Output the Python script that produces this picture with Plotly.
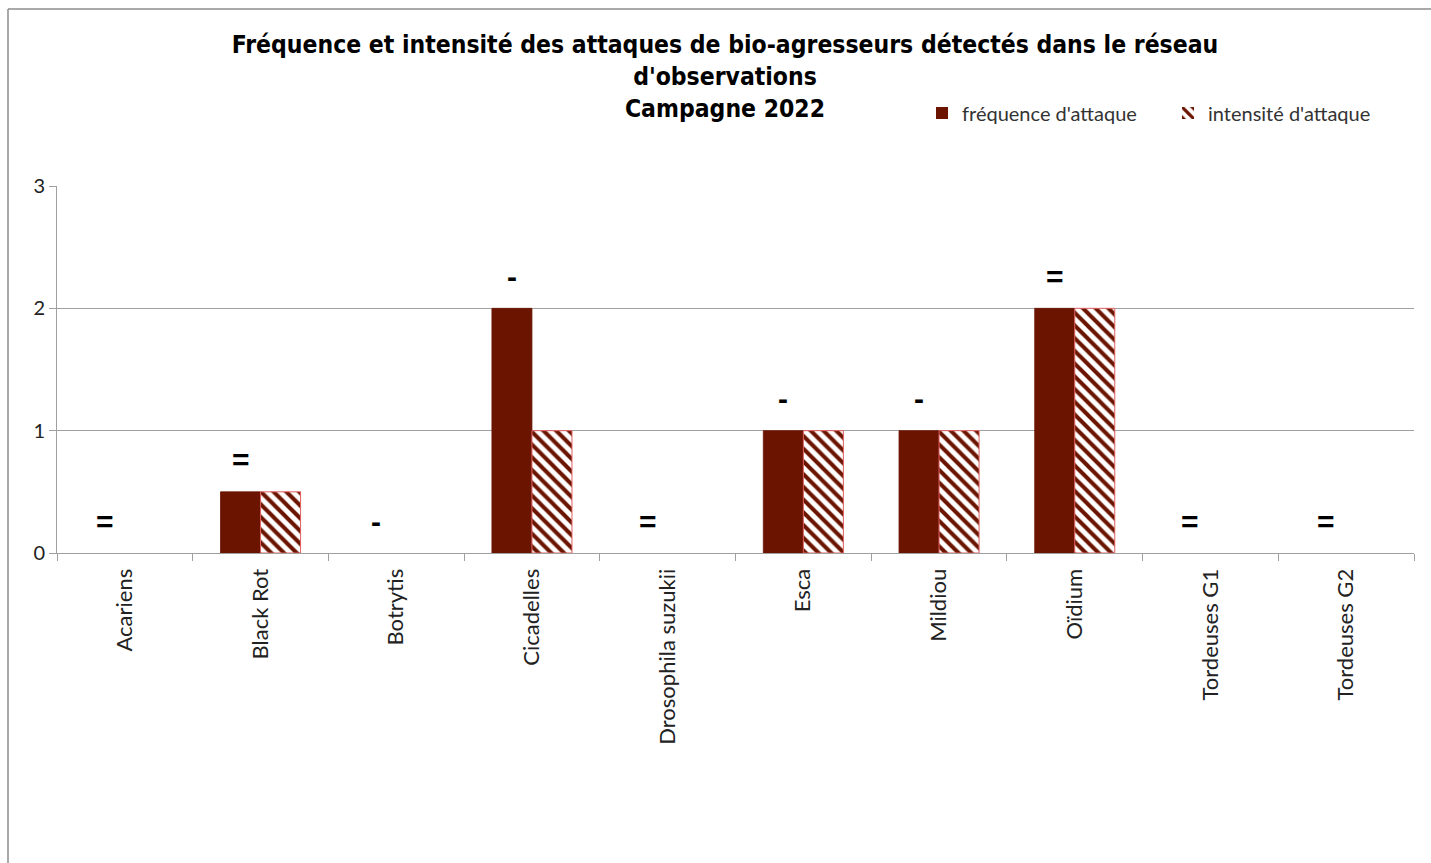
import plotly.graph_objects as go

categories = ["Acariens", "Black Rot", "Botrytis", "Cicadelles", "Drosophila suzukii",
              "Esca", "Mildiou", "Oïdium", "Tordeuses G1", "Tordeuses G2"]
frequence = [0, 0.5, 0, 2, 0, 1, 1, 2, 0, 0]
intensite = [0, 0.5, 0, 1, 0, 1, 1, 2, 0, 0]
tendance = ["=", "=", "-", "-", "=", "-", "-", "=", "=", "="]

W, H = 1431, 863
L, R, T, B = 57, 17, 186, 310
pw, ph = W - L - R, H - T - B

maroon = "#6b1400"

fig = go.Figure()
fig.add_trace(go.Bar(
    x=categories, y=frequence, name="fréquence d'attaque",
    marker=dict(color=maroon, line=dict(color=maroon, width=[0.8 if v else 0 for v in frequence])),
))
fig.add_trace(go.Bar(
    x=categories, y=intensite, name="intensité d'attaque",
    marker=dict(color="white", line=dict(color="#e06060", width=[1 if v else 0 for v in intensite]),
                pattern=dict(shape="\\", fgcolor=maroon, bgcolor="white",
                             size=9, solidity=0.45, fillmode="replace")),
))

for c, v, s in zip(categories, frequence, tendance):
    fig.add_annotation(x=c, y=v, xref="x", yref="y", text="<b>%s</b>" % s,
                       showarrow=False, xshift=-20, yshift=32, yanchor="middle",
                       font=dict(family="Liberation Sans", size=30, color="black"))

# outer chart border (left and top)
fig.add_shape(type="line", xref="paper", yref="paper",
              x0=(8 - L) / pw, x1=(W + 5 - L) / pw,
              y0=(H - B - 9) / ph, y1=(H - B - 9) / ph,
              line=dict(color="#8c8c8c", width=1.5))
fig.add_shape(type="line", xref="paper", yref="paper",
              x0=(8 - L) / pw, x1=(8 - L) / pw,
              y0=(H - B - 9) / ph, y1=-(B + 5) / ph,
              line=dict(color="#8c8c8c", width=1.5))

fig.update_layout(
    width=W, height=H,
    margin=dict(l=L, r=R, t=T, b=B, autoexpand=False),
    paper_bgcolor="white", plot_bgcolor="white",
    barmode="group", bargap=0.41, bargroupgap=0,
    title=dict(text="Fréquence et intensité des attaques de bio-agresseurs détectés dans le réseau<br>d'observations<br>Campagne 2022",
               x=725 / W, xanchor="center", y=1 - 53 / H, yanchor="top",
               font=dict(family="DejaVu Sans Condensed, DejaVu Sans", size=24.5, color="black", weight="bold")),
    legend=dict(orientation="h", x=(922 - L) / pw, xanchor="left",
                y=(H - B - 113) / ph, yanchor="middle",
                font=dict(family="Lato", size=20, color="#333333"),
                entrywidth=201, entrywidthmode="pixels",
                bgcolor="rgba(0,0,0,0)", traceorder="normal"),
    xaxis=dict(type="category", tickson="boundaries", ticks="outside", ticklen=7,
               tickcolor="#a0a0a0", showline=True, linecolor="#a0a0a0", linewidth=1,
               showgrid=False, tickangle=-90, ticklabelstandoff=6,
               tickfont=dict(family="Lato", size=22, color="#222222")),
    yaxis=dict(range=[0, 3], dtick=1, ticks="outside", ticklen=7, tickcolor="#a0a0a0",
               showline=True, linecolor="#a0a0a0", linewidth=1,
               showgrid=True, gridcolor="#a0a0a0", gridwidth=1, zeroline=False,
               tickfont=dict(family="Lato", size=20, color="#222222")),
)

fig.write_html("out.html")
